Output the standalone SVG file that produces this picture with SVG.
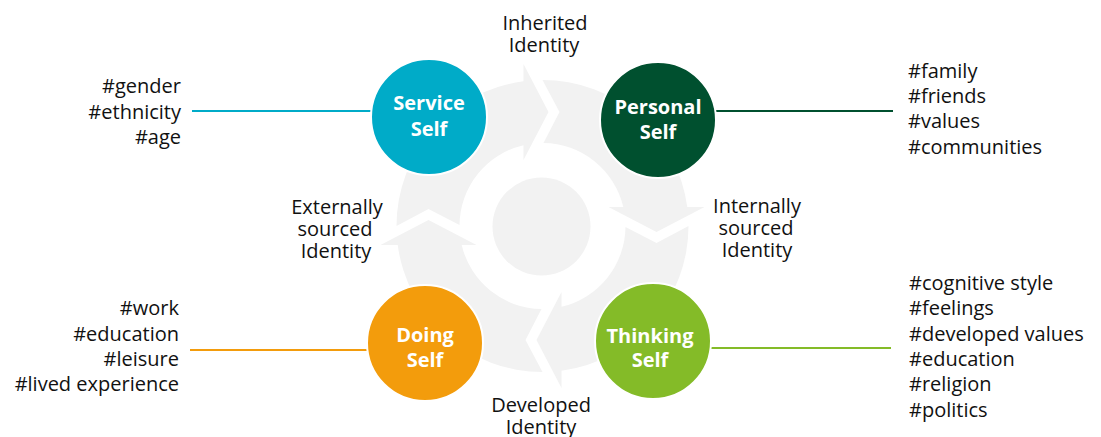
<svg xmlns="http://www.w3.org/2000/svg" xmlns:xlink="http://www.w3.org/1999/xlink" width="1101" height="437" viewBox="0 0 1101 437">
<style>
.lbl{font-family:"Open Sans","Liberation Sans",Arial,sans-serif;font-size:20px;fill:#111}
.mid{text-anchor:middle}
.end{text-anchor:end}
.node{font-family:"Open Sans","Liberation Sans",Arial,sans-serif;font-size:20px;font-weight:bold;fill:#fff;text-anchor:middle}
.ring{fill:#f2f2f2}
.conn{stroke-width:2.2;fill:none}
</style>
<defs>
<path id="seg" d="M0,-146 A146,146 0 0 1 144.76,-19 L162,-19 L114,6 L66,-19 L80.8,-19 A83,83 0 0 0 1,-83 L17,-114 Z"/>
</defs>
<rect width="1101" height="437" fill="#fff"/>
<g id="cycle" class="ring" transform="translate(542.5,226)">
<use xlink:href="#seg"/>
<use xlink:href="#seg" transform="rotate(90)"/>
<use xlink:href="#seg" transform="rotate(180)"/>
<use xlink:href="#seg" transform="rotate(270)"/>
<circle cx="-1" cy="0.5" r="49"/>
</g>
<g id="connectors" class="conn">
<line x1="192" y1="111" x2="372" y2="111" stroke="#00abc8"/>
<line x1="715" y1="111" x2="893" y2="111" stroke="#00502f"/>
<line x1="190" y1="350" x2="368" y2="350" stroke="#f39c0c"/>
<line x1="710" y1="348" x2="891" y2="348" stroke="#84bb28"/>
</g>
<g id="service-self">
<circle cx="429" cy="117" r="58" fill="#00abc8" stroke="#fff" stroke-width="2"/>
<text class="node" x="429" y="110">Service</text>
<text class="node" x="429" y="136">Self</text>
</g>
<g id="personal-self">
<circle cx="658" cy="120" r="58" fill="#00502f" stroke="#fff" stroke-width="2"/>
<text class="node" x="658" y="114">Personal</text>
<text class="node" x="658" y="139">Self</text>
</g>
<g id="doing-self">
<circle cx="425" cy="343" r="58" fill="#f39c0c" stroke="#fff" stroke-width="2"/>
<text class="node" x="425" y="342">Doing</text>
<text class="node" x="425" y="367">Self</text>
</g>
<g id="thinking-self">
<circle cx="653" cy="341" r="58" fill="#84bb28" stroke="#fff" stroke-width="2"/>
<text class="node" x="650" y="343">Thinking</text>
<text class="node" x="650" y="367">Self</text>
</g>
<g id="inherited-label" class="lbl mid">
<text x="545" y="30">Inherited</text>
<text x="544" y="52">Identity</text>
</g>
<g id="developed-label" class="lbl mid">
<text x="541" y="412">Developed</text>
<text x="541" y="434">Identity</text>
</g>
<g id="external-label" class="lbl mid">
<text x="337" y="214">Externally</text>
<text x="335" y="236">sourced</text>
<text x="336" y="258">Identity</text>
</g>
<g id="internal-label" class="lbl mid">
<text x="757" y="213">Internally</text>
<text x="756" y="235">sourced</text>
<text x="757" y="257">Identity</text>
</g>
<g id="service-tags" class="lbl end">
<text x="181" y="93">#gender</text>
<text x="181" y="119">#ethnicity</text>
<text x="181" y="144">#age</text>
</g>
<g id="personal-tags" class="lbl">
<text x="908" y="78">#family</text>
<text x="908" y="103">#friends</text>
<text x="908" y="128">#values</text>
<text x="908" y="154">#communities</text>
</g>
<g id="doing-tags" class="lbl end">
<text x="179" y="315">#work</text>
<text x="179" y="341">#education</text>
<text x="179" y="366">#leisure</text>
<text x="179" y="391">#lived experience</text>
</g>
<g id="thinking-tags" class="lbl">
<text x="909" y="290">#cognitive style</text>
<text x="909" y="315">#feelings</text>
<text x="909" y="341">#developed values</text>
<text x="909" y="366">#education</text>
<text x="909" y="391">#religion</text>
<text x="909" y="417">#politics</text>
</g>
</svg>
